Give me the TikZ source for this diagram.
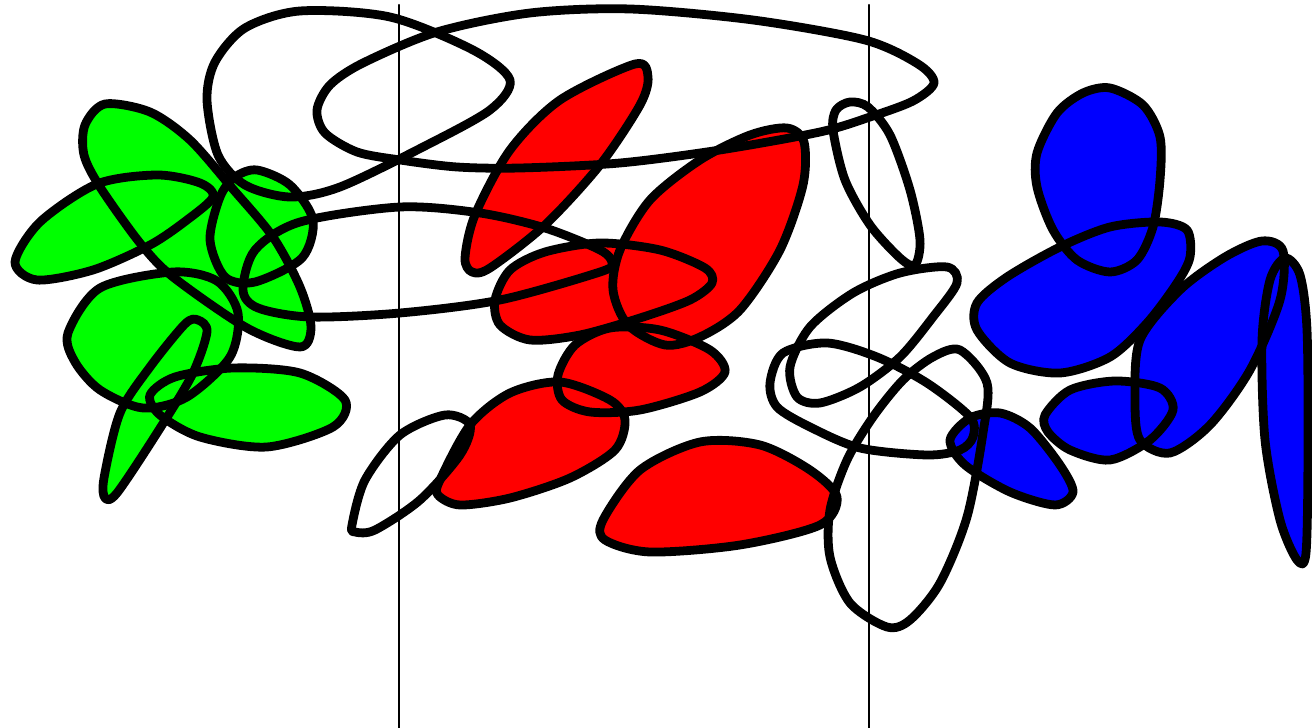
\documentclass[tikz,border=0pt]{standalone}
\begin{document}
\begin{tikzpicture}[x=0.01cm, y=-0.01cm, line join=round, line cap=round]
\useasboundingbox (0,0) rectangle (1312,728);
\tikzset{blob/.style={line width=2.5pt}, guide/.style={line width=0.7pt}}
% green group
\def\gA{plot[smooth cycle] coordinates {(85,125) (105,104) (150,112) (190,140) (232,188) (273,237) (300,287) (311,327) (300,347) (247,328) (173,277) (140,243) (100,187) (84,155)}}
\def\gB{plot[smooth cycle] coordinates {(15,262) (40,222) (97,184) (157,175) (200,183) (213,197) (187,220) (150,245) (93,270) (37,280)}}
\def\gC{plot[smooth cycle] coordinates {(257,170) (290,185) (313,220) (302,258) (255,282) (225,277) (210,240) (220,197) (235,177)}}
\def\gD{plot[smooth cycle] coordinates {(68,333) (100,288) (173,272) (217,281) (238,313) (230,357) (187,397) (143,408) (100,390) (75,362)}}
\def\gE{plot[smooth cycle] coordinates {(150,395) (175,377) (233,368) (300,373) (345,400) (333,427) (267,447) (200,437) (160,415)}}
\def\gF{plot[smooth cycle] coordinates {(198,320) (207,332) (192,375) (157,433) (117,493) (105,498) (104,478) (120,413) (150,367) (185,324)}}
% red group
\def\rA{plot[smooth cycle] coordinates {(635,64) (648,77) (640,105) (600,165) (545,225) (490,268) (472,272) (465,258) (475,215) (510,150) (560,100)}}
\def\rB{plot[smooth cycle] coordinates {(787,128) (804,142) (803,185) (780,250) (740,310) (700,337) (665,345) (628,325) (613,290) (620,250) (650,200) (700,160) (750,135)}}
\def\rC{plot[smooth cycle] coordinates {(495,300) (510,270) (545,252) (600,243) (660,250) (705,268) (712,283) (690,300) (640,318) (580,335) (530,340) (500,325)}}
\def\rD{plot[smooth cycle] coordinates {(558,375) (575,345) (610,328) (660,330) (710,350) (725,372) (700,392) (640,410) (590,412) (562,400)}}
\def\rE{plot[smooth cycle] coordinates {(440,480) (470,425) (510,393) (560,382) (610,400) (625,420) (615,450) (570,478) (510,498) (460,505) (438,495)}}
\def\rF{plot[smooth cycle] coordinates {(603,520) (640,470) (700,442) (760,445) (810,470) (837,497) (820,525) (740,545) (650,552) (605,540)}}
% blue group
\def\bA{plot[smooth cycle] coordinates {(1110,88) (1143,105) (1160,137) (1160,180) (1153,227) (1137,260) (1110,272) (1077,260) (1053,230) (1037,187) (1037,153) (1057,113) (1083,93)}}
\def\bB{plot[smooth cycle] coordinates {(1160,222) (1187,230) (1190,257) (1177,283) (1147,323) (1110,357) (1060,373) (1010,363) (977,330) (977,303) (1007,277) (1060,247) (1110,227)}}
\def\bC{plot[smooth cycle] coordinates {(1135,400) (1140,340) (1180,290) (1225,257) (1262,241) (1283,251) (1280,300) (1250,370) (1210,425) (1170,453) (1140,440)}}
\def\bD{plot[smooth cycle] coordinates {(1045,415) (1070,390) (1115,381) (1160,388) (1173,410) (1150,440) (1110,460) (1070,450) (1048,432)}}
\def\bE{plot[smooth cycle] coordinates {(1285,258) (1300,275) (1307,330) (1308,450) (1306,553) (1297,560) (1280,520) (1265,440) (1262,340) (1270,280)}}
\def\bF{plot[smooth cycle] coordinates {(950,440) (970,418) (1000,413) (1030,428) (1060,465) (1073,492) (1055,505) (1010,492) (965,465)}}
% open loops
\def\wA{plot[smooth cycle] coordinates {(207,100) (215,62) (245,28) (300,11) (390,17) (473,50) (510,80) (490,110) (423,147) (340,187) (290,197) (245,185) (218,155)}}
\def\wB{plot[smooth cycle] coordinates {(317,110) (330,85) (363,63) (437,32) (530,13) (630,9) (753,20) (865,40) (918,64) (934,83) (913,101) (870,117) (820,132) (720,150) (620,163) (520,168) (457,167) (400,160) (357,152) (325,133)}}
\def\wC{plot[smooth cycle] coordinates {(243,290) (255,250) (300,222) (400,207) (480,213) (545,228) (600,250) (612,263) (600,272) (500,300) (400,313) (310,317) (258,308)}}
\def\wD{plot[smooth cycle] coordinates {(352,525) (365,480) (400,435) (445,415) (470,425) (460,455) (420,500) (375,530) (355,532)}}
\def\wE{plot[smooth cycle] coordinates {(850,102) (868,107) (890,135) (910,190) (920,240) (915,265) (900,258) (870,225) (845,180) (833,130) (836,110)}}
\def\wF{plot[smooth cycle] coordinates {(947,267) (957,283) (933,317) (900,357) (860,387) (820,403) (797,397) (790,367) (810,327) (853,293) (900,273)}}
\def\wG{plot[smooth cycle] coordinates {(770,383) (783,353) (827,343) (877,357) (927,383) (970,417) (973,437) (960,450) (927,455) (860,448) (810,427) (777,407)}}
\def\wH{plot[smooth cycle] coordinates {(960,350) (987,383) (983,433) (967,517) (940,583) (910,620) (887,627) (850,603) (830,557) (830,510) (847,460) (873,417) (903,380) (933,357)}}

\coordinate (l1top) at (399,5);
\coordinate (l1bot) at (399,728);
\coordinate (l2top) at (869,5);
\coordinate (l2bot) at (869,728);
\draw[guide] (l1top) -- (l1bot);
\draw[guide] (l2top) -- (l2bot);

\fill[green] \gA; \fill[green] \gB; \fill[green] \gC;
\fill[green] \gD; \fill[green] \gE; \fill[green] \gF;
\fill[red] \rA; \fill[red] \rB; \fill[red] \rC;
\fill[red] \rD; \fill[red] \rE; \fill[red] \rF;
\fill[blue] \bA; \fill[blue] \bB; \fill[blue] \bC;
\fill[blue] \bD; \fill[blue] \bE; \fill[blue] \bF;

\draw[blob] \gA; \draw[blob] \gB; \draw[blob] \gC;
\draw[blob] \gD; \draw[blob] \gE; \draw[blob] \gF;
\draw[blob] \rA; \draw[blob] \rB; \draw[blob] \rC;
\draw[blob] \rD; \draw[blob] \rE; \draw[blob] \rF;
\draw[blob] \bA; \draw[blob] \bB; \draw[blob] \bC;
\draw[blob] \bD; \draw[blob] \bE; \draw[blob] \bF;
\draw[blob] \wA; \draw[blob] \wB; \draw[blob] \wC; \draw[blob] \wD;
\draw[blob] \wE; \draw[blob] \wF; \draw[blob] \wG; \draw[blob] \wH;
\end{tikzpicture}
\end{document}
